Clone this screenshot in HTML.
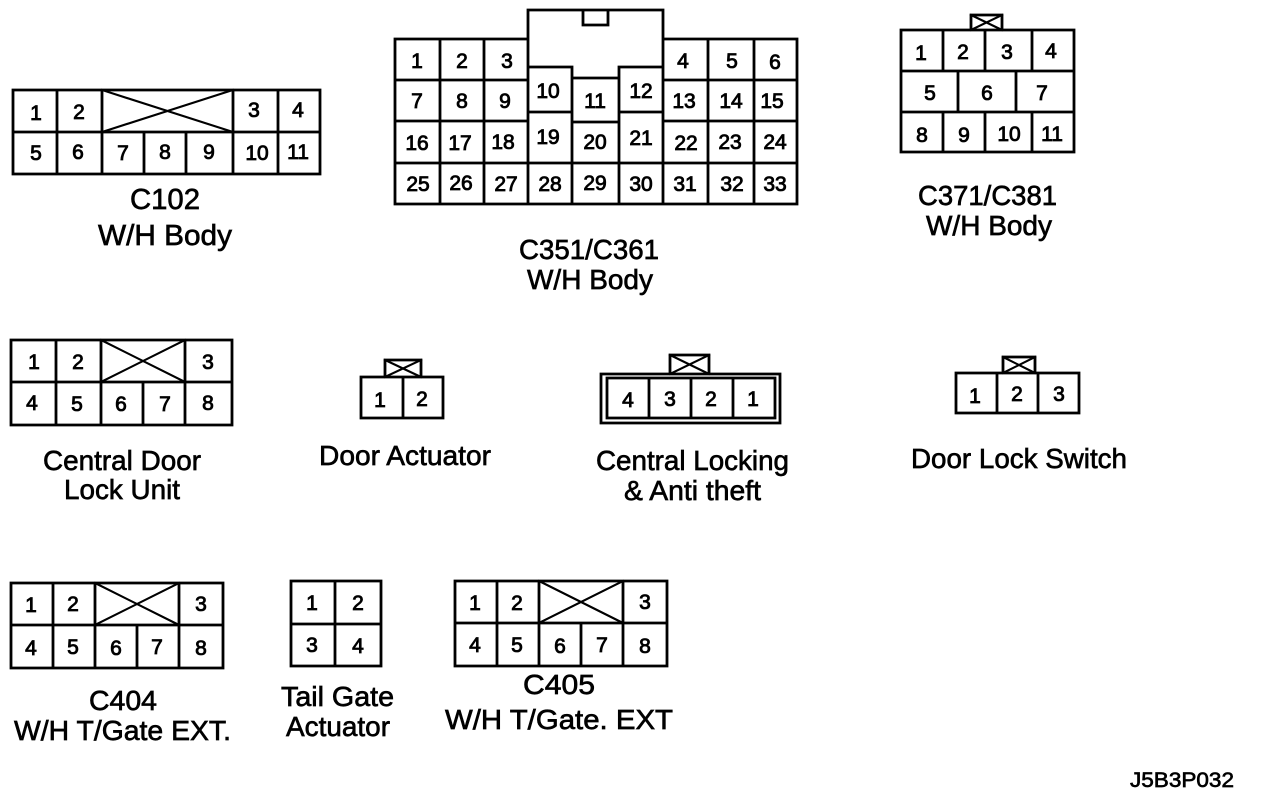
<!DOCTYPE html>
<html><head><meta charset="utf-8"><style>
html,body{margin:0;padding:0;background:#fff;width:1264px;height:802px;overflow:hidden}
svg{display:block}
.l{fill:none;stroke:#000;stroke-width:2.8;stroke-linecap:square}
.t{stroke-width:2.1}
.n text{font:21px "Liberation Sans",sans-serif;text-anchor:middle;fill:#000;stroke:#000;stroke-width:.85}
.c text{font:28px "Liberation Sans",sans-serif;fill:#000;stroke:#000;stroke-width:.65}
</style></head><body>
<svg width="1264" height="802" viewBox="0 0 1264 802" xmlns="http://www.w3.org/2000/svg">
<g class="l">
<!-- C102 -->
<path d="M13 90H320V174H13ZM13 132H320M57 90V174M102 90V174M233 90V174M278 90V174M144 132V174M186 132V174"/>
<path class="t" d="M102 90L233 132M102 132L233 90"/>
<!-- C351 -->
<path d="M395 39H528V10H663V39H797V204H395ZM395 80H528M395 121H528M395 163H797M663 80H797M663 121H797M440 39V204M484 39V204M528 10V204M663 10V204M708 39V204M754 39V204M572 67V204M619 67V204M528 67H572M572 78H619M619 67H663M528 112H572M572 122H619M619 112H663M583 10V25H608V10"/>
<!-- C371 -->
<path d="M901 30H1074V152H901ZM901 71H1074M901 112H1074M943 30V71M985 30V71M1032 30V71M958 71V112M1016 71V112M943 112V152M985 112V152M1032 112V152M971 30V15H1002V30"/>
<path class="t" d="M971 15L1002 30M971 30L1002 15"/>
<!-- Central Door Lock Unit -->
<path d="M11 340H232V425H11ZM11 382H232M56 340V425M101 340V425M185 340V425M143 382V425"/>
<path class="t" d="M101 340L185 382M101 382L185 340"/>
<!-- Door Actuator -->
<path d="M361 377H443V418H361ZM403 377V418M385 377V360H421V377"/>
<path class="t" d="M385 360L421 377M385 377L421 360"/>
<!-- Central Locking -->
<path d="M601 374H780V423H601ZM607 378H775V418H607ZM649 378V418M691 378V418M733 378V418M670 374V355H709V374"/>
<path class="t" d="M670 355L709 374M670 374L709 355"/>
<!-- Door Lock Switch -->
<path d="M956 373H1079V413H956ZM997 373V413M1038 373V413M1003 373V357H1035V373"/>
<path class="t" d="M1003 357L1035 373M1003 373L1035 357"/>
<!-- C404 -->
<path d="M11 583H223V668H11ZM11 625H223M53 583V668M95 583V668M179 583V668M137 625V668"/>
<path class="t" d="M95 583L179 625M95 625L179 583"/>
<!-- Tail Gate -->
<path d="M291 581H381V666H291ZM291 624H381M335 581V666"/>
<!-- C405 -->
<path d="M455 581H667V666H455ZM455 623H667M497 581V666M539 581V666M623 581V666M581 623V666"/>
<path class="t" d="M539 581L623 623M539 623L623 581"/>
</g>
<g class="n">
<text x="36" y="120">1</text><text x="79" y="119">2</text><text x="254" y="117">3</text><text x="298" y="117">4</text>
<text x="36" y="160">5</text><text x="78" y="159">6</text><text x="123" y="160">7</text><text x="165" y="159">8</text><text x="209" y="159">9</text><text x="257" y="160">10</text><text x="298" y="159">11</text>

<text x="417" y="68">1</text><text x="462" y="68">2</text><text x="507" y="68">3</text><text x="683" y="68">4</text><text x="732" y="68">5</text><text x="775" y="69">6</text>
<text x="417" y="108">7</text><text x="462" y="108">8</text><text x="505" y="108">9</text><text x="548" y="98">10</text><text x="595" y="108">11</text><text x="641" y="98">12</text><text x="684" y="108">13</text><text x="731" y="108">14</text><text x="772" y="108">15</text>
<text x="417" y="150">16</text><text x="460" y="150">17</text><text x="503" y="149">18</text><text x="548" y="144">19</text><text x="595" y="149">20</text><text x="641" y="145">21</text><text x="686" y="150">22</text><text x="730" y="149">23</text><text x="775" y="149">24</text>
<text x="418" y="191">25</text><text x="461" y="190">26</text><text x="506" y="191">27</text><text x="550" y="191">28</text><text x="595" y="190">29</text><text x="641" y="191">30</text><text x="685" y="191">31</text><text x="732" y="191">32</text><text x="775" y="191">33</text>

<text x="921" y="60">1</text><text x="963" y="59">2</text><text x="1007" y="59">3</text><text x="1051" y="58">4</text>
<text x="930" y="100">5</text><text x="987" y="100">6</text><text x="1042" y="100">7</text>
<text x="922" y="142">8</text><text x="964" y="142">9</text><text x="1009" y="141">10</text><text x="1052" y="141">11</text>

<text x="34" y="369">1</text><text x="78" y="369">2</text><text x="208" y="369">3</text>
<text x="32" y="410">4</text><text x="77" y="411">5</text><text x="121" y="411">6</text><text x="165" y="411">7</text><text x="208" y="410">8</text>

<text x="380" y="407">1</text><text x="422" y="406">2</text>

<text x="628" y="407">4</text><text x="670" y="406">3</text><text x="711" y="406">2</text><text x="753" y="406">1</text>

<text x="975" y="403">1</text><text x="1017" y="401">2</text><text x="1059" y="401">3</text>

<text x="31" y="612">1</text><text x="73" y="611">2</text><text x="201" y="611">3</text>
<text x="31" y="655">4</text><text x="73" y="654">5</text><text x="116" y="655">6</text><text x="157" y="654">7</text><text x="201" y="655">8</text>

<text x="312" y="610">1</text><text x="358" y="610">2</text><text x="312" y="652">3</text><text x="358" y="653">4</text>

<text x="475" y="610">1</text><text x="517" y="610">2</text><text x="645" y="609">3</text>
<text x="475" y="652">4</text><text x="517" y="652">5</text><text x="560" y="653">6</text><text x="602" y="652">7</text><text x="645" y="653">8</text>
</g>
<g class="c">
<text x="130" y="209" textLength="70" lengthAdjust="spacingAndGlyphs" style="font-size:29px">C102</text>
<text x="98" y="245" textLength="134" lengthAdjust="spacingAndGlyphs" style="font-size:29px">W/H Body</text>
<text x="519" y="259" textLength="140" lengthAdjust="spacingAndGlyphs">C351/C361</text>
<text x="527" y="289" textLength="126" lengthAdjust="spacingAndGlyphs">W/H Body</text>
<text x="918" y="205" textLength="139" lengthAdjust="spacingAndGlyphs">C371/C381</text>
<text x="926" y="235" textLength="126" lengthAdjust="spacingAndGlyphs">W/H Body</text>
<text x="43" y="470" textLength="158" lengthAdjust="spacingAndGlyphs">Central Door</text>
<text x="64" y="499" textLength="116" lengthAdjust="spacingAndGlyphs">Lock Unit</text>
<text x="319" y="465" textLength="172" lengthAdjust="spacingAndGlyphs">Door Actuator</text>
<text x="596" y="470" textLength="193" lengthAdjust="spacingAndGlyphs">Central Locking</text>
<text x="624" y="500" textLength="137" lengthAdjust="spacingAndGlyphs">&amp; Anti theft</text>
<text x="911" y="468" textLength="216" lengthAdjust="spacingAndGlyphs">Door Lock Switch</text>
<text x="89" y="710" textLength="68" lengthAdjust="spacingAndGlyphs">C404</text>
<text x="14" y="740" textLength="217" lengthAdjust="spacingAndGlyphs">W/H T/Gate EXT.</text>
<text x="281" y="706" textLength="113" lengthAdjust="spacingAndGlyphs">Tail Gate</text>
<text x="286" y="736" textLength="104" lengthAdjust="spacingAndGlyphs">Actuator</text>
<text x="523" y="694" textLength="72" lengthAdjust="spacingAndGlyphs">C405</text>
<text x="445" y="729" textLength="228" lengthAdjust="spacingAndGlyphs">W/H T/Gate. EXT</text>
<text x="1130" y="787" textLength="104" lengthAdjust="spacingAndGlyphs" style="font-size:21px">J5B3P032</text>
</g>
</svg>
</body></html>
